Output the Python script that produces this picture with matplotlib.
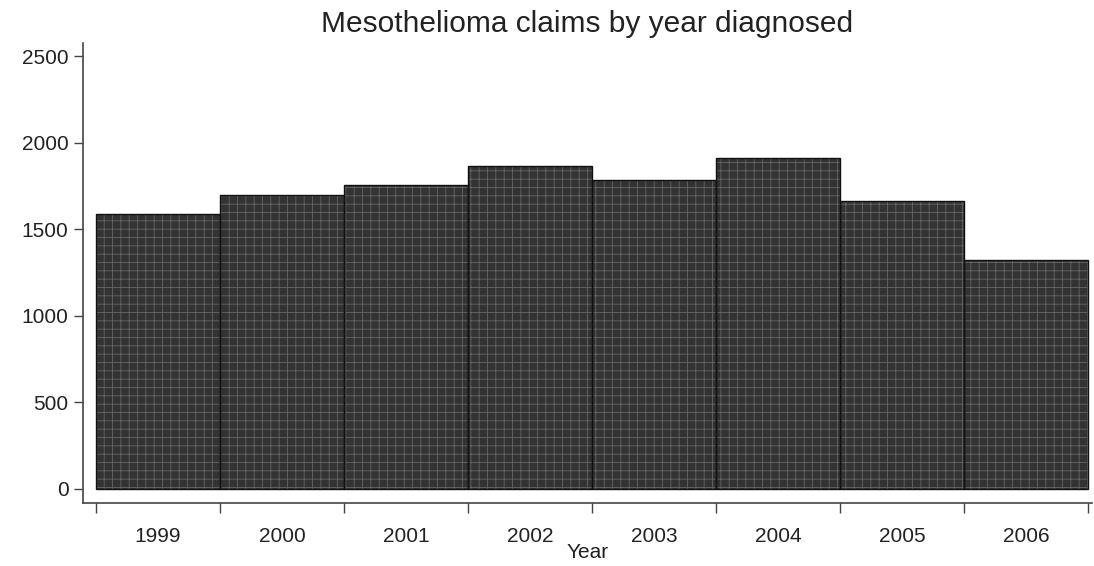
import matplotlib.pyplot as plt
import numpy as np

plt.rcParams['font.family'] = ['Liberation Sans', 'DejaVu Sans']
plt.rcParams['hatch.linewidth'] = 0.6

# claims per year of diagnosis
years = [1999, 2000, 2001, 2002, 2003, 2004, 2005, 2006]
claims = [1590, 1695, 1755, 1865, 1785, 1910, 1665, 1320]
y_ticks = [0, 500, 1000, 1500, 2000, 2500]

fig = plt.figure(figsize=(10.94, 5.66), dpi=100)
ax = fig.add_axes([83 / 1094, 63 / 566, 1009 / 1094, 460 / 566])

# textured fill, then outline on top
ax.bar(years, claims, width=1.0, color='#333333', edgecolor='#666666',
       hatch='++', linewidth=0, zorder=2)
ax.bar(years, claims, width=1.0, fill=False, edgecolor='#111111',
       linewidth=1.0, zorder=3)

edges = np.arange(years[0] - 0.5, years[-1] + 1.0, 1.0)
ax.set_xticks(edges)
ax.set_xticklabels([])
ax.set_xticks(years, minor=True)
ax.set_xticklabels([str(y) for y in years], minor=True)
ax.tick_params(axis='x', which='major', length=7, width=1, color='#444444')
ax.tick_params(axis='x', which='minor', length=0, pad=17, labelsize=15,
               labelcolor='#222222')

ax.set_yticks(y_ticks)
ax.tick_params(axis='y', length=6.5, width=1, color='#444444', pad=4,
               labelsize=15, labelcolor='#222222')

ax.set_xlim(edges[0] - 13 / 124, edges[-1] + 4 / 124)
ax.set_ylim(-14 * 5.774, 2500 + 13 * 5.774)

for s in ['top', 'right']:
    ax.spines[s].set_visible(False)
for s in ['left', 'bottom']:
    ax.spines[s].set_color('#444444')
    ax.spines[s].set_linewidth(1.2)

ax.set_xlabel('Year', fontsize=15, color='#222222', labelpad=-2)
ax.set_title('Mesothelioma claims by year diagnosed', fontsize=21.5,
             color='#222222', pad=8)

fig.savefig('out.png', dpi=100)
